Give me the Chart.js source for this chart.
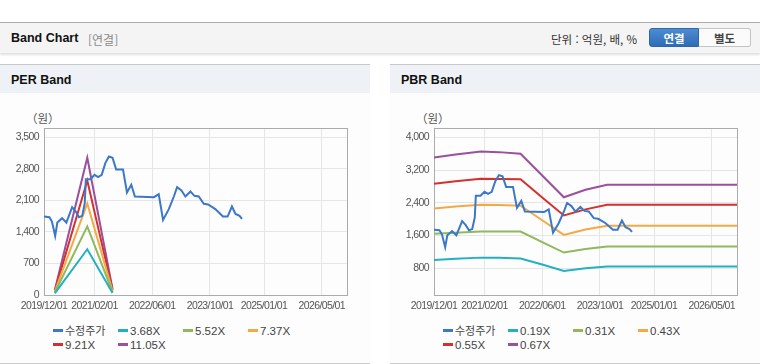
<!DOCTYPE html>
<html lang="ko">
<head>
<meta charset="utf-8">
<title>Band Chart</title>
<script src="https://cdn.jsdelivr.net/npm/chart.js@4.4.0/dist/chart.umd.min.js"></script>
<style>
    body {
        margin: 0;
        width: 760px;
        height: 364px;
        background: #fff;
        position: relative;
        overflow: hidden;
        font-family: "Liberation Sans", "Noto Sans CJK KR", sans-serif;
        color: #333;
    }
    .topbar {
        position: absolute;
        left: 0; top: 22px;
        width: 760px; height: 30px;
        background: #f4f4f4;
        border-top: 1px solid #adadad;
        box-shadow: 0 2px 2px rgba(0, 0, 0, 0.12);
    }
    .topbar .title {
        position: absolute;
        left: 11px; top: 8px;
        font-size: 12.5px;
        font-weight: bold;
        color: #111;
    }
    .topbar .sub {
        position: absolute;
        left: 88px; top: 8px;
        font-size: 12px;
        color: #8a8a8a;
        font-family: "Noto Sans CJK KR", sans-serif;
    }
    .topbar .unit {
        position: absolute;
        left: 551px; top: 8px;
        font-size: 11.5px;
        color: #333;
        font-family: "Noto Sans CJK KR", sans-serif;
    }
    .btn {
        position: absolute;
        top: 5px;
        height: 19px;
        line-height: 19px;
        text-align: center;
        font-size: 11.5px;
        font-weight: bold;
        font-family: "Noto Sans CJK KR", sans-serif;
        box-sizing: border-box;
    }
    .btn.on {
        left: 649px; width: 50px;
        background: linear-gradient(#4d8cd2, #2e6cb4);
        color: #fff;
        border: 1px solid #2d67a8;
        border-radius: 3px 0 0 3px;
    }
    .btn.off {
        left: 699px; width: 52px;
        background: #fbfbfb;
        color: #444;
        border: 1px solid #c4c4c4;
        border-left: none;
        border-radius: 0 3px 3px 0;
    }
    .panel {
        position: absolute;
        top: 64px;
        width: 370px;
        height: 298px;
        background: #fdfdfd;
        border-top: 1px solid #c8c8c8;
        border-bottom: 1px solid #c8c8c8;
    }
    .panel .head {
        height: 28px;
        background: #eef1f6;
        font-size: 12.5px;
        font-weight: bold;
        color: #111;
        line-height: 30px;
        padding-left: 11px;
    }
    .panel canvas {
        position: absolute;
        left: 0; top: 35px;
    }
    .panel .unitlabel {
        position: absolute;
        left: 26px; top: 45px;
        font-size: 11.5px;
        color: #555;
        font-family: "Noto Sans CJK KR", sans-serif;
    }
    .legend {
        position: absolute;
        left: 53px; top: 258px;
        width: 270px;
        font-size: 11.5px;
        color: #444;
        line-height: 14px;
    }
    .legend .item {
        display: inline-block;
        width: 65px;
        white-space: nowrap;
    }
    .legend .mark {
        display: inline-block;
        width: 10px; height: 3px;
        margin-right: 2px;
        vertical-align: middle;
        position: relative; top: -1px;
    }
    .legend .kr {
        font-family: "Noto Sans CJK KR", sans-serif;
        font-size: 11px;
    }
</style>
</head>
<body>

<div class="topbar">
    <span class="title">Band Chart</span>
    <span class="sub">[연결]</span>
    <span class="unit">단위 : 억원, 배, %</span>
    <span class="btn on">연결</span>
    <span class="btn off">별도</span>
</div>

<div class="panel" style="left:0">
    <div class="head">PER Band</div>
    <span class="unitlabel">（원）</span>
    <canvas id="perChart" width="370" height="215"></canvas>
    <div class="legend" id="perLegend"></div>
</div>

<div class="panel" style="left:390px">
    <div class="head">PBR Band</div>
    <span class="unitlabel">（원）</span>
    <canvas id="pbrChart" width="370" height="215"></canvas>
    <div class="legend" id="pbrLegend"></div>
</div>

<script>
// x axis
const xStart = '2019/12/01';
const xEnd = '2026/12/01';
const xTickLabels = ['2019/12/01', '2021/02/01', '2022/06/01', '2023/10/01', '2025/01/01', '2026/05/01'];

// 수정주가 (adjusted price)
const priceDates = [
    '2019/12/01', '2020/01/16', '2020/02/07', '2020/03/04', '2020/03/22', '2020/05/01',
    '2020/06/07', '2020/07/25', '2020/08/25', '2020/09/22', '2020/10/19', '2020/11/10',
    '2020/11/19', '2020/12/28', '2021/02/01', '2021/03/01', '2021/04/01', '2021/05/01',
    '2021/06/01', '2021/07/01', '2021/08/01', '2021/09/28', '2021/11/01', '2021/12/07',
    '2022/01/07', '2022/06/16', '2022/07/25', '2022/09/01', '2022/10/19', '2022/12/01',
    '2022/12/28', '2023/02/04', '2023/03/07', '2023/04/19', '2023/05/22', '2023/06/28',
    '2023/08/10', '2023/09/16', '2023/11/16', '2024/01/19', '2024/02/28', '2024/04/04',
    '2024/05/04', '2024/06/07', '2024/06/28'
];
const priceValues = [
    1742, 1729, 1631, 1313, 1609, 1707,
    1609, 1951, 1854, 1729, 1758, 2040,
    2574, 2574, 2670, 2618, 2670, 2930,
    3078, 3050, 2790, 2790, 2277, 2448,
    2188, 2173, 2240, 1669, 1907, 2188,
    2396, 2321, 2188, 2299, 2203, 2188,
    2025, 2010, 1907, 1742, 1742, 1966,
    1802, 1760, 1691
];

// PER band
const perLabels = ['3.68X', '5.52X', '7.37X', '9.21X', '11.05X'];
const perDates = ['2020/03/01', '2020/12/01', '2021/07/01'];
const per368 = [37, 1016, 44];
const per552 = [55, 1524, 66];
const per737 = [74, 2034, 88];
const per921 = [92, 2542, 111];
const per1105 = [111, 3050, 133];
const perYTicks = [0, 700, 1400, 2100, 2800, 3500];

// PBR band
const pbrLabels = ['0.19X', '0.31X', '0.43X', '0.55X', '0.67X'];
const pbrDates = ['2019/12/01', '2020/06/01', '2021/01/01', '2021/06/01', '2021/12/01',
                  '2022/06/01', '2022/12/01', '2023/06/01', '2023/12/01', '2026/12/01'];
const pbr019 = [1004, 1030, 1060, 1055, 1040, 890, 735, 800, 841, 841];
const pbr031 = [1641, 1670, 1698, 1698, 1698, 1440, 1184, 1270, 1331, 1331];
const pbr043 = [2261, 2310, 2355, 2345, 2330, 1975, 1616, 1750, 1837, 1837];
const pbr055 = [2865, 2925, 2990, 2985, 2975, 2530, 2090, 2240, 2351, 2351];
const pbr067 = [3510, 3580, 3655, 3640, 3600, 3070, 2535, 2720, 2842, 2842];
const pbrYTicks = [800, 1600, 2400, 3200, 4000];

const bandColors = ['#25b0c2', '#8fb95a', '#f3aa45', '#d3302e', '#9a4f9f'];
const priceColor = '#3b78c8';

// months elapsed since xStart
function toMonth(str) {
    const p = str.split('/').map(Number);
    const s = xStart.split('/').map(Number);
    return (p[0] - s[0]) * 12 + (p[1] - s[1]) + (p[2] - 1) / 30;
}

function toPoints(dates, values) {
    return dates.map((d, i) => ({ x: toMonth(d), y: values[i] }));
}

const xTickMonths = xTickLabels.map(toMonth);

// tighter tick text, the original labels are condensed
const tightText = {
    id: 'tightText',
    beforeInit(chart) { chart.ctx.letterSpacing = '-0.6px'; },
    beforeDraw(chart) { chart.ctx.letterSpacing = '-0.6px'; }
};

const plotBox = {
    id: 'plotBox',
    beforeDatasetsDraw(chart) {
        const a = chart.chartArea;
        const ctx = chart.ctx;
        ctx.save();
        ctx.strokeStyle = '#ababab';
        ctx.lineWidth = 1;
        ctx.strokeRect(Math.round(a.left) + 0.5, Math.round(a.top) + 0.5,
                       Math.round(a.right - a.left), Math.round(a.bottom - a.top));
        ctx.restore();
    }
};

function buildDatasets(labels, dates, series) {
    const sets = [{
        label: '수정주가',
        data: toPoints(priceDates, priceValues),
        borderColor: priceColor,
        backgroundColor: priceColor
    }];
    series.forEach((vals, i) => {
        sets.push({
            label: labels[i],
            data: toPoints(dates, vals),
            borderColor: bandColors[i],
            backgroundColor: bandColors[i]
        });
    });
    return sets;
}

function buildOptions(yMin, yMax, yTicks) {
    const tickFont = { size: 10.5, family: '"Liberation Sans", Arial, sans-serif' };
    return {
        responsive: false,
        animation: false,
        layout: { padding: { top: 28, right: 23, left: 0, bottom: 0 } },
        plugins: { legend: { display: false }, tooltip: { enabled: false } },
        elements: {
            point: { radius: 0 },
            line: { borderWidth: 2, tension: 0, fill: false }
        },
        scales: {
            x: {
                type: 'linear',
                min: 0,
                max: toMonth(xEnd),
                afterBuildTicks: function(scale) {
                    scale.ticks = xTickMonths.map(v => ({ value: v }));
                },
                afterFit: function(scale) { scale.height = 20; },
                ticks: {
                    autoSkip: false,
                    maxRotation: 0,
                    padding: 5,
                    color: '#555',
                    font: tickFont,
                    callback: function(value, index) { return xTickLabels[index]; }
                },
                grid: { color: '#e6e6e6', drawTicks: false },
                border: { display: false }
            },
            y: {
                min: yMin,
                max: yMax,
                afterBuildTicks: function(scale) {
                    scale.ticks = yTicks.map(v => ({ value: v }));
                },
                afterFit: function(scale) { scale.width = 44; },
                ticks: {
                    padding: 5,
                    color: '#555',
                    font: tickFont,
                    callback: function(value) { return value.toLocaleString('en-US'); }
                },
                grid: { color: '#e6e6e6', drawTicks: false },
                border: { display: false }
            }
        }
    };
}

function buildLegend(chart, id) {
    let html = '';
    chart.data.datasets.forEach(function(ds) {
        const kr = /[가-힣]/.test(ds.label) ? ' kr' : '';
        html += `<span class="item"><span class="mark" style="background:${ds.borderColor}"></span>` +
                `<span class="${kr}">${ds.label}</span></span>`;
    });
    document.getElementById(id).innerHTML = html;
}

const perChart = new Chart(document.getElementById('perChart'), {
    type: 'line',
    data: { datasets: buildDatasets(perLabels, perDates, [per368, per552, per737, per921, per1105]) },
    options: buildOptions(0, 3710, perYTicks),
    plugins: [tightText, plotBox]
});

const pbrChart = new Chart(document.getElementById('pbrChart'), {
    type: 'line',
    data: { datasets: buildDatasets(pbrLabels, pbrDates, [pbr019, pbr031, pbr043, pbr055, pbr067]) },
    options: buildOptions(146, 4230, pbrYTicks),
    plugins: [tightText, plotBox]
});

buildLegend(perChart, 'perLegend');
buildLegend(pbrChart, 'pbrLegend');
</script>
</body>
</html>
